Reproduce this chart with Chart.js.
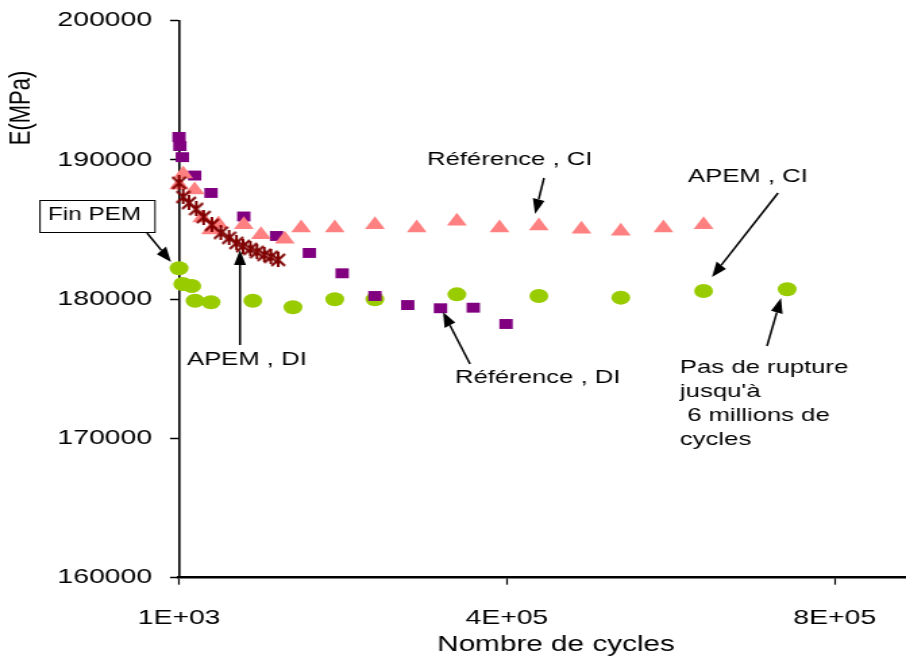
<!DOCTYPE html>
<html>
<head>
<meta charset="utf-8">
<script src="https://cdn.jsdelivr.net/npm/chart.js@4.4.1/dist/chart.umd.min.js"></script>
<style>
  html, body { margin: 0; padding: 0; background: #fff; }
  #c { display: block; }
</style>
</head>
<body>
<canvas id="c" width="671" height="661" style="width:906px;height:661px"></canvas>
<script>
// values
const refDIx = [1000, 2000, 5000, 20000, 40000, 80000, 120000, 160000, 200000, 240000, 280000, 320000, 360000, 400000];
const refDIy = [191650, 191000, 190200, 188880, 187630, 185940, 184540, 183320, 181860, 180230, 179580, 179350, 179390, 178220];

const refCIx = [1000, 6000, 20000, 29000, 40000, 49000, 80000, 101000, 130000, 150000, 191000, 240000, 291000, 340000, 392000, 440000, 492000, 540000, 592000, 641000];
const refCIy = [188200, 189000, 187840, 185830, 184970, 185400, 185350, 184630, 184300, 185110, 185110, 185350, 185110, 185600, 185110, 185260, 185020, 184880, 185110, 185350];

const apemDIx = [1000, 6000, 13000, 22000, 31000, 41000, 52000, 62000, 71000, 79000, 88000, 96000, 105000, 113000, 122000];
const apemDIy = [188350, 187340, 186910, 186480, 185900, 185330, 184760, 184400, 184040, 183820, 183610, 183390, 183180, 183040, 182820];

const apemCIx = [1000, 5500, 16500, 20500, 40000, 91000, 140000, 191000, 240000, 340000, 440000, 540000, 641000, 743000];
const apemCIy = [182220, 181090, 180950, 179890, 179780, 179890, 179420, 180000, 180000, 180350, 180230, 180110, 180590, 180710];

const xTicks = [1000, 401000, 801000];
const xTickLabels = ["1E+03", "4E+05", "8E+05"];
const yTicks = [160000, 170000, 180000, 190000, 200000];

// the reference is stretched sideways: draw narrow, css widens it
const SX = 906 / 671;
const FONT = "'Liberation Sans', Arial, sans-serif";

const pts = (xs, ys) => xs.map((x, i) => ({ x, y: ys[i] }));

function starMarker() {
  const c = document.createElement("canvas");
  c.width = 12; c.height = 15;
  const g = c.getContext("2d");
  g.strokeStyle = "#800000";
  g.lineWidth = 2;
  g.beginPath();
  g.moveTo(1, 1.5); g.lineTo(11, 13.5);
  g.moveTo(11, 1.5); g.lineTo(1, 13.5);
  g.moveTo(6, 0); g.lineTo(6, 15);
  g.stroke();
  return c;
}

// no extra label padding, the plot box is fixed by hand
function noPad(s) {
  s.paddingTop = 0; s.paddingBottom = 0;
  s.paddingLeft = 0; s.paddingRight = 0;
}

// notes, in reference pixels
const notes = [
  { text: "Référence , CI", x: 427, y: 160 },
  { text: "APEM , CI", x: 688, y: 177 },
  { text: "APEM , DI", x: 187, y: 360 },
  { text: "Référence , DI", x: 455, y: 378 },
  { text: "Pas de rupture", x: 680, y: 368 },
  { text: "jusqu'à", x: 680, y: 392 },
  { text: " 6 millions de", x: 680, y: 416 },
  { text: "cycles", x: 680, y: 440 }
];
const arrows = [
  [147, 233, 171, 262],
  [544, 178, 535, 214],
  [778, 193, 712, 277],
  [240, 345, 240, 250],
  [470, 364, 443, 312],
  [767, 346, 781, 298]
];

function drawArrow(ctx, x1, y1, x2, y2) {
  const a = Math.atan2(y2 - y1, x2 - x1);
  const L = 15, W = 6;
  const bx = x2 - L * Math.cos(a), by = y2 - L * Math.sin(a);
  ctx.beginPath();
  ctx.moveTo(x1 / SX, y1);
  ctx.lineTo(bx / SX, by);
  ctx.stroke();
  ctx.beginPath();
  ctx.moveTo(x2 / SX, y2);
  ctx.lineTo((bx + W * Math.sin(a)) / SX, by - W * Math.cos(a));
  ctx.lineTo((bx - W * Math.sin(a)) / SX, by + W * Math.cos(a));
  ctx.closePath();
  ctx.fill();
}

const notesPlugin = {
  id: "notes",
  afterDraw(chart) {
    const ctx = chart.ctx;
    ctx.save();
    ctx.fillStyle = "#000";
    ctx.strokeStyle = "#000";

    // axis titles
    ctx.font = "22px " + FONT;
    ctx.textAlign = "center";
    ctx.textBaseline = "middle";
    ctx.fillText("Nombre de cycles", 556 / SX, 645);
    ctx.save();
    ctx.translate(22 / SX, 108);
    ctx.rotate(-Math.PI / 2);
    ctx.fillText("E(MPa)", 0, 0);
    ctx.restore();

    // Fin PEM box
    ctx.lineWidth = 1;
    ctx.strokeRect(40 / SX, 200.5, 115 / SX, 32);
    ctx.font = "18px " + FONT;
    ctx.textAlign = "left";
    ctx.fillText("Fin PEM", 48 / SX, 215);

    ctx.font = "19px " + FONT;
    notes.forEach(n => ctx.fillText(n.text, n.x / SX, n.y));

    ctx.lineWidth = 1.5;
    arrows.forEach(a => drawArrow(ctx, a[0], a[1], a[2], a[3]));
    ctx.restore();
  }
};

new Chart(document.getElementById("c"), {
  type: "scatter",
  data: {
    datasets: [
      {
        label: "APEM , DI",
        data: pts(apemDIx, apemDIy),
        pointStyle: starMarker(),
        pointRadius: 7,
        clip: false
      },
      {
        label: "Référence , CI",
        data: pts(refCIx, refCIy),
        pointStyle: "triangle",
        pointRadius: 8.5,
        backgroundColor: "#ff8080",
        borderColor: "#ff8080",
        borderWidth: 0,
        clip: false
      },
      {
        label: "Référence , DI",
        data: pts(refDIx, refDIy),
        pointStyle: "rect",
        pointRadius: 7,
        backgroundColor: "#800080",
        borderColor: "#800080",
        borderWidth: 0,
        clip: false
      },
      {
        label: "APEM , CI",
        data: pts(apemCIx, apemCIy),
        pointStyle: "circle",
        pointRadius: 7,
        backgroundColor: "#99cc00",
        borderColor: "#99cc00",
        borderWidth: 0,
        clip: false
      }
    ]
  },
  options: {
    responsive: false,
    animation: false,
    layout: { autoPadding: false, padding: { top: 20.7, left: 0, right: 0, bottom: 0 } },
    scales: {
      x: {
        type: "linear",
        min: 1000,
        max: 888000,
        afterBuildTicks: s => { s.ticks = xTicks.map(v => ({ value: v })); },
        afterFit: s => { s.height = 83.3; noPad(s); },
        ticks: {
          callback: (v, i) => xTickLabels[i],
          autoSkip: false,
          maxRotation: 0,
          color: "#000",
          padding: 21,
          font: { family: FONT, size: 21 }
        },
        grid: { drawOnChartArea: false, tickLength: 7, tickColor: "#000", tickWidth: 1.2 },
        border: { color: "#000", width: 2.5 }
      },
      y: {
        min: 160000,
        max: 200000,
        afterBuildTicks: s => { s.ticks = yTicks.map(v => ({ value: v })); },
        afterFit: s => { s.width = 132.6; noPad(s); },
        ticks: {
          callback: v => String(v),
          color: "#000",
          padding: 13.3,
          font: { family: FONT, size: 21 }
        },
        grid: { drawOnChartArea: false, tickLength: 6.7, tickColor: "#000", tickWidth: 1.5 },
        border: { color: "#000", width: 1.6 }
      }
    },
    plugins: {
      legend: { display: false },
      tooltip: { enabled: false }
    }
  },
  plugins: [notesPlugin]
});
</script>
</body>
</html>
